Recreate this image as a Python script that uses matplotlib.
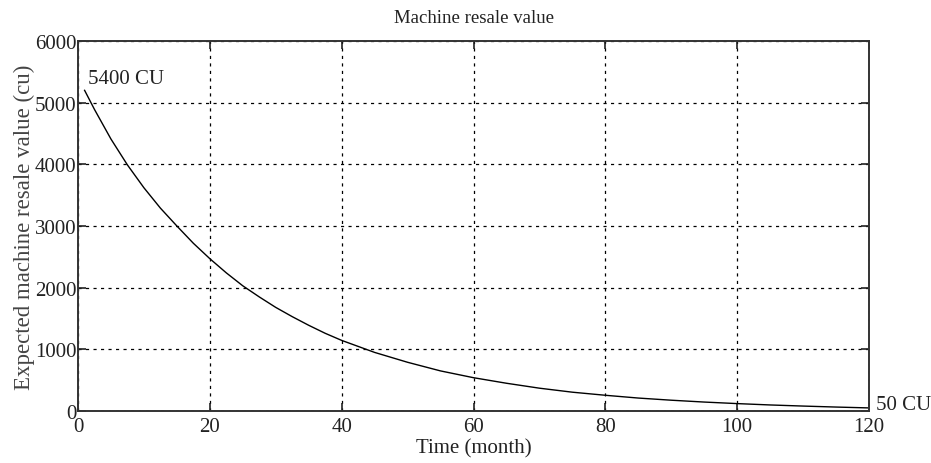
import numpy as np
import matplotlib.pyplot as plt

plt.rcParams['font.family'] = ['Liberation Serif', 'DejaVu Serif']

# values
month = [1, 2.5, 5, 7.5, 10, 12.5, 15, 17.5, 20, 22.5, 25, 27.5, 30, 32.5, 35, 37.5, 40,
         45, 50, 55, 60, 65, 70, 75, 80, 85, 90, 95, 100, 105, 110, 115, 120]
value = [5200, 4890, 4410, 3990, 3620, 3290, 3000, 2720, 2470, 2240, 2030, 1850, 1680, 1530,
         1390, 1260, 1145, 950, 790, 650, 540, 450, 370, 305, 255, 210, 175, 145, 120, 98, 80, 64, 50]

fig = plt.figure(figsize=(9.31, 4.64), dpi=100)
ax = fig.add_axes([78/931, 52/464, 791/931, 370/464])

ax.plot(month, value, color='black', lw=1.0)
ax.set_xlim(0, 120)
ax.set_ylim(0, 6000)
ax.set_xticks(np.arange(0, 121, 20))
ax.set_yticks(np.arange(0, 6001, 1000))
ax.grid(True, color='black', linestyle=(0, (2.5, 3.5)), lw=0.9)
ax.tick_params(direction='in', top=True, right=True, length=6, width=1.2,
               labelsize=15, colors='#222222')
ax.tick_params(axis='x', pad=4)
ax.tick_params(axis='y', pad=1)
for s in ax.spines.values():
    s.set_linewidth(1.4)
    s.set_color('#333333')

ax.set_title('Machine resale value', fontsize=13.5, pad=14, color='#222222')
ax.set_xlabel('Time (month)', fontsize=15, labelpad=2, color='#222222')
ax.set_ylabel('Expected machine resale value (cu)', fontsize=16.5, labelpad=0, color='#444444')

ax.text(1.5, 5400, '5400 CU', fontsize=15, va='center', ha='left', color='#222222')
ax.text(121, 110, '50 CU', fontsize=15, va='center', ha='left', color='#222222', clip_on=False)

fig.savefig('out.png', dpi=100)
